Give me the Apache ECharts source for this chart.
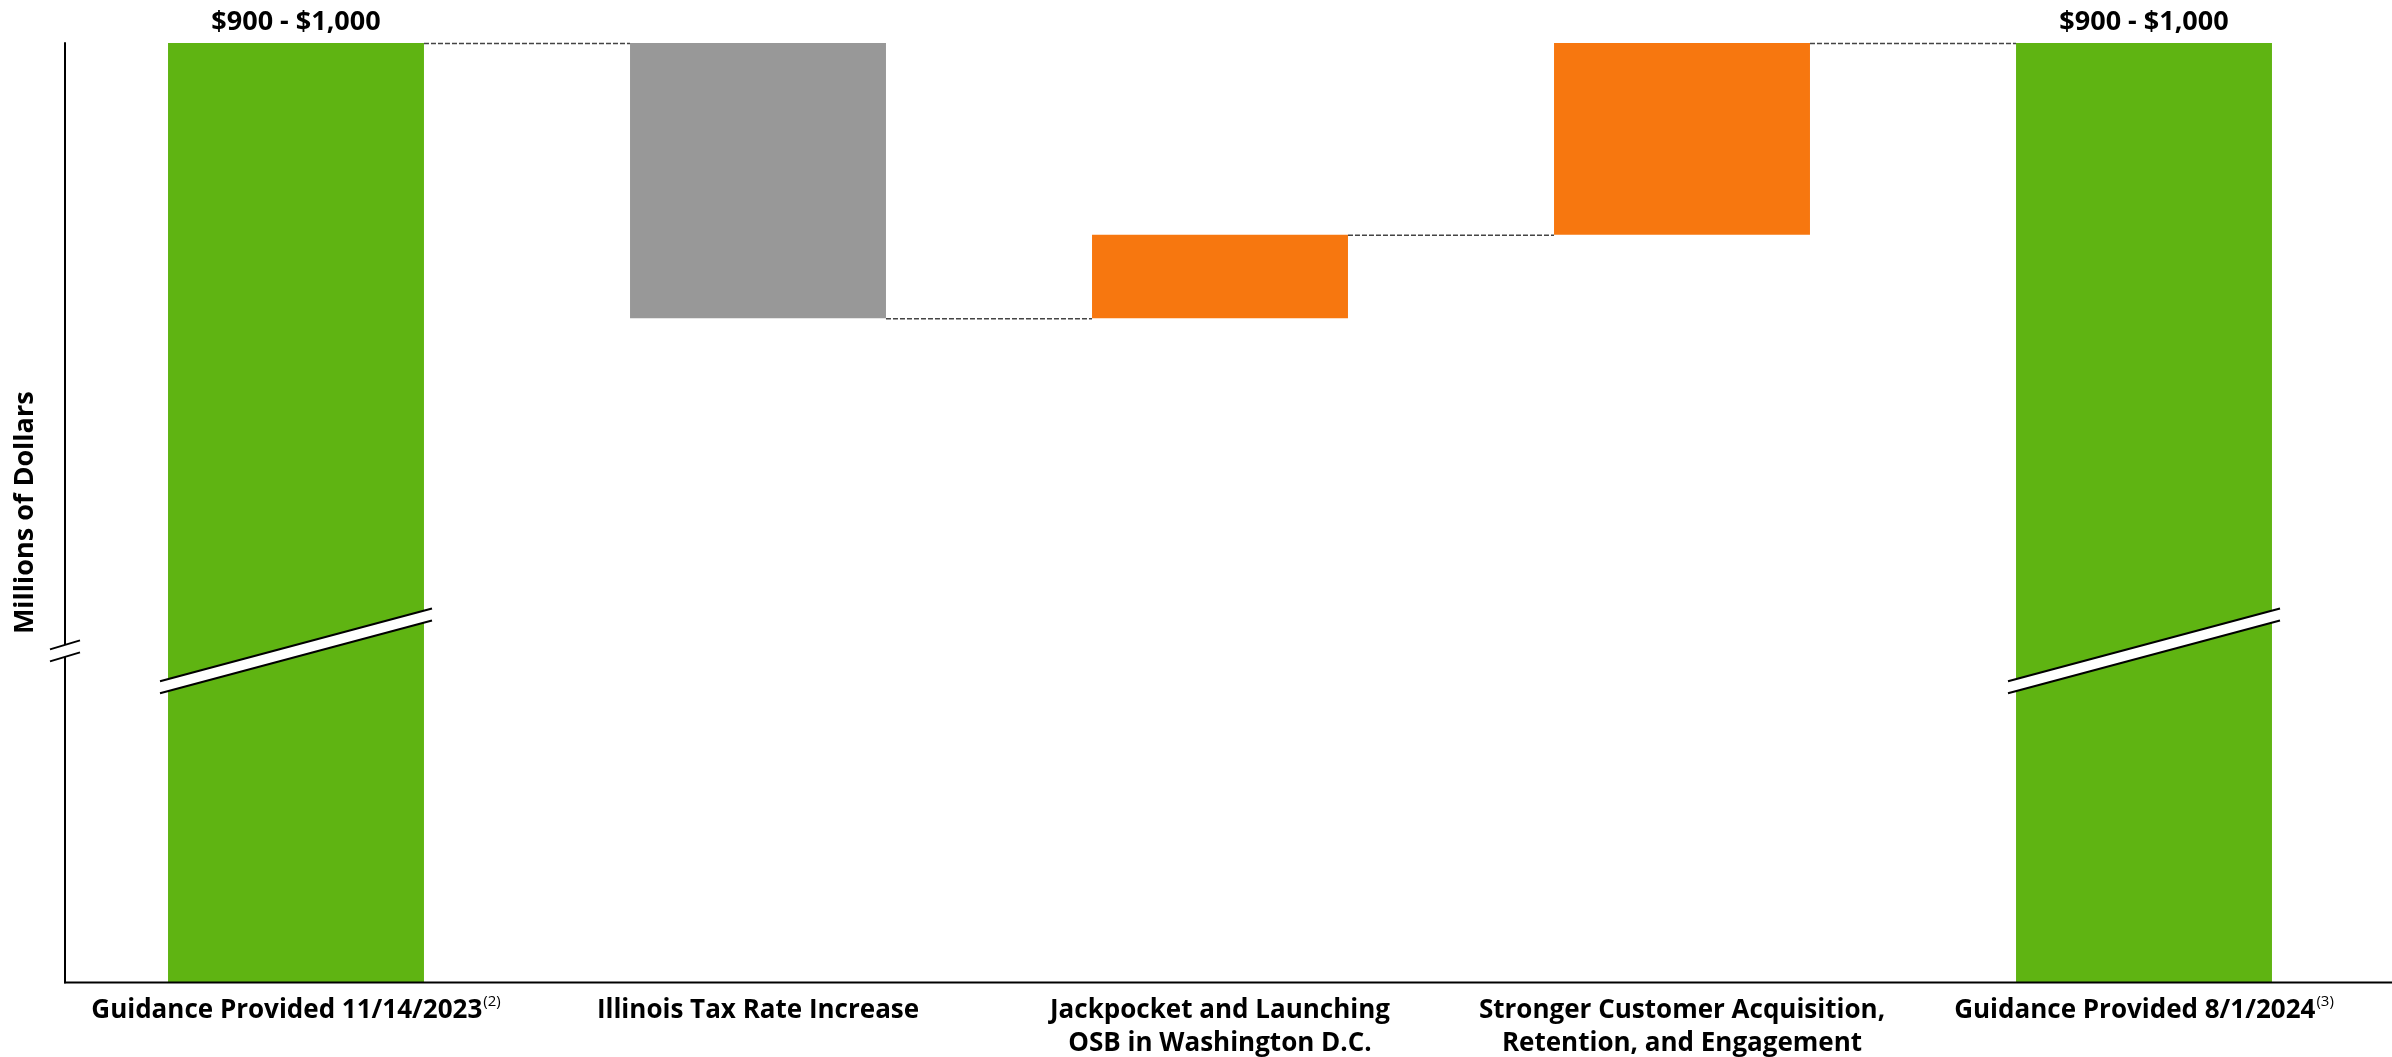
<!DOCTYPE html>
<html>
<head>
<meta charset="utf-8">
<script src="https://cdn.jsdelivr.net/npm/echarts@6/dist/echarts.min.js"></script>
<style>
html,body{margin:0;padding:0;background:#fff;}
#chart{width:2392px;height:1057px;}
</style>
</head>
<body>
<div id="chart"></div>
<script>
// ---- data ----
const categories = [
  'Guidance Provided 11/14/2023',
  'Illinois Tax Rate Increase',
  'Jackpocket and Launching\nOSB in Washington D.C.',
  'Stronger Customer Acquisition,\nRetention, and Engagement',
  'Guidance Provided 8/1/2024'
];
const categorySup = ['(2)', '', '', '', '(3)'];
// relative heights (axis is broken, chart is schematic)
const barBase  = [0, 70.7, 70.7, 79.6, 0];
const barDelta = [100, 29.3, 8.9, 20.4, 100];
const barLabels = ['$900 - $1,000', '', '', '', '$900 - $1,000'];
const connectorLevels = [100, 70.7, 79.6, 100];
const breakValue = 35.3;
const yMax = 100;

const barColors = ['#5fb412', '#989898', '#f7770f', '#f7770f', '#5fb412'];
const BAR_RATIO = 0.554;

const chart = echarts.init(document.getElementById('chart'), null, {renderer: 'canvas'});
const FONT = '"Open Sans", "Noto Sans", sans-serif';

const option = {
  animation: false,
  backgroundColor: '#fff',
  grid: {left: 65, right: 17, top: 43, bottom: 72, containLabel: false},
  xAxis: {
    type: 'category',
    data: categories,
    axisLine: {show: false},
    axisTick: {show: false},
    axisLabel: {
      interval: 0,
      margin: 12,
      formatter: function (v, i) {
        const lines = v.split('\n').map(s => '{b|' + s + '}');
        if (categorySup[i]) lines[lines.length - 1] += '{sup|' + categorySup[i] + '}';
        return lines.join('\n');
      },
      rich: {
        b: {fontFamily: FONT, fontWeight: 'bold', fontSize: 26, color: '#000', lineHeight: 33},
        sup: {fontFamily: FONT, fontSize: 15, color: '#000', lineHeight: 33, verticalAlign: 'top', padding: [0, 0, 6, 1]}
      }
    }
  },
  yAxis: {
    type: 'value',
    min: 0,
    max: yMax,
    name: 'Millions of Dollars',
    nameLocation: 'middle',
    nameRotate: 90,
    nameGap: 26,
    nameTextStyle: {fontFamily: FONT, fontWeight: 'bold', fontSize: 27, color: '#000'},
    axisLine: {show: true, lineStyle: {color: '#000', width: 2}},
    axisTick: {show: false},
    axisLabel: {show: false},
    splitLine: {show: false}
  },
  series: [
    {
      type: 'bar',
      stack: 'wf',
      data: barBase,
      barWidth: (BAR_RATIO * 100) + '%',
      itemStyle: {color: 'transparent'},
      silent: true
    },
    {
      type: 'bar',
      stack: 'wf',
      data: barDelta.map((v, i) => ({value: v, itemStyle: {color: barColors[i]}})),
      barWidth: (BAR_RATIO * 100) + '%',
      label: {
        show: true,
        position: 'top',
        distance: 7,
        formatter: p => barLabels[p.dataIndex],
        fontFamily: FONT, fontWeight: 'bold', fontSize: 27, color: '#000'
      }
    },
    {
      type: 'custom',
      data: connectorLevels.map((v, i) => [i, v]),
      renderItem: function (params, api) {
        const i = api.value(0), v = api.value(1);
        const p1 = api.coord([i, v]);
        const p2 = api.coord([i + 1, v]);
        const half = api.size([1, 0])[0] * BAR_RATIO / 2;
        return {
          type: 'line',
          shape: {x1: p1[0] + half, y1: p1[1] + 0.5, x2: p2[0] - half, y2: p2[1] + 0.5},
          style: {stroke: '#444', lineWidth: 1.5, lineDash: [5, 2]}
        };
      },
      z: 3
    }
  ]
};
chart.setOption(option);

// ---- axis-break decorations and full-width x axis line ----
function addBreaks() {
  const gfx = [];
  const catW = chart.convertToPixel({xAxisIndex: 0}, 1) - chart.convertToPixel({xAxisIndex: 0}, 0);
  const half = catW * BAR_RATIO / 2;
  const gap = 12;
  function breakShape(cx, cy, hw, slope) {
    const xa = cx - hw, xb = cx + hw;
    const ya = cy + slope * hw, yb = cy - slope * hw;
    gfx.push({type: 'polygon', shape: {points: [[xa, ya - gap / 2], [xb, yb - gap / 2], [xb, yb + gap / 2], [xa, ya + gap / 2]]},
      style: {fill: '#fff'}, z: 100});
    gfx.push({type: 'line', shape: {x1: xa, y1: ya - gap / 2, x2: xb, y2: yb - gap / 2}, style: {stroke: '#000', lineWidth: 2}, z: 101});
    gfx.push({type: 'line', shape: {x1: xa, y1: ya + gap / 2, x2: xb, y2: yb + gap / 2}, style: {stroke: '#000', lineWidth: 2}, z: 101});
  }
  [0, 4].forEach(i => {
    const p = chart.convertToPixel({gridIndex: 0}, [i, breakValue]);
    breakShape(p[0], p[1], half + 8, 0.268);
  });
  const rect = chart.getModel().getComponent('grid', 0).coordinateSystem.getRect();
  const pa = chart.convertToPixel({gridIndex: 0}, [0, breakValue]);
  breakShape(rect.x, pa[1], 15, 0.3);
  gfx.push({type: 'line', shape: {x1: rect.x - 1, y1: rect.y + rect.height, x2: 2392, y2: rect.y + rect.height},
    style: {stroke: '#000', lineWidth: 2}, z: 50});
  chart.setOption({graphic: {elements: gfx}});
}
addBreaks();
</script>
</body>
</html>
